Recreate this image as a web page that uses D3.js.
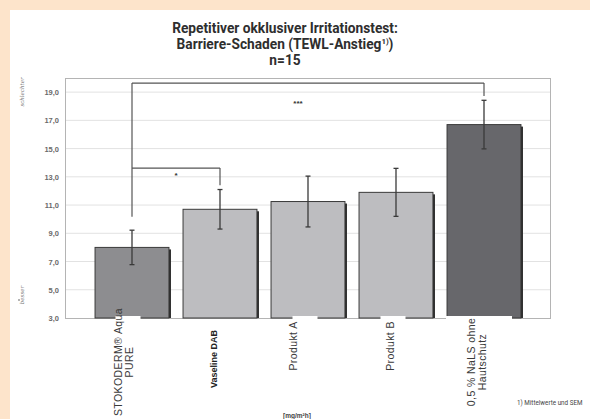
<!DOCTYPE html>
<html>
<head>
<meta charset="utf-8">
<script src="https://cdn.jsdelivr.net/npm/d3@7"></script>
<style>
body{margin:0;background:#fde4cb;}
svg{display:block;}
</style>
</head>
<body>
<svg width="590" height="419"></svg>
<script>
// data
const categories=["STOKODERM® Aqua PURE","Vaseline DAB","Produkt A","Produkt B","0,5 % NaLS ohne Hautschutz"]
const labelLines=[["STOKODERM® Aqua","PURE"],["Vaseline DAB"],["Produkt A"],["Produkt B"],["0,5 % NaLS ohne","Hautschutz"]]
const means=[8.0,10.7,11.25,11.9,16.7]
const sem=[1.22,1.4,1.8,1.7,1.72]
const yTicks=[3,5,7,9,11,13,15,17,19]
const comparisons=[{a:0,b:4,level:19.64,label:"***"},{a:0,b:1,level:13.62,label:"*"}]
const titleLines=["Repetitiver okklusiver Irritationstest:","Barriere-Schaden (TEWL-Anstieg","n=15"]

const fills=["#8d8d90","#bdbdc0","#bdbdc0","#bdbdc0","#67676b"]
const svg=d3.select("svg")
svg.append("rect").attr("x",10).attr("y",10).attr("width",580).attr("height",409).attr("fill","#fff")

const x=d3.scaleBand().domain(categories).range([88,528]).paddingInner(0.16).paddingOuter(0.08)
const y=d3.scaleLinear().domain([3,20]).range([318,78])
const cx=i=>x(categories[i])+x.bandwidth()/2

// grid
svg.append("g").selectAll("line").data(yTicks.slice(1)).join("line")
.attr("x1",66).attr("x2",550).attr("y1",d=>y(d)).attr("y2",d=>y(d))
.attr("stroke","#e2e2e2").attr("stroke-width",1)

// frame
svg.append("rect").attr("x",65.5).attr("y",y(20)+.5).attr("width",485).attr("height",y(3)-y(20))
.attr("fill","none").attr("stroke","#b4b4b4").attr("stroke-width",1)

// y axis labels
const fmt=d=>d3.format(".1f")(d).replace(".",",")
svg.append("g").selectAll("text").data(yTicks).join("text")
.attr("x",59).attr("y",d=>y(d)+3).attr("text-anchor","end")
.attr("font-family","Liberation Sans, Arial, sans-serif").attr("font-size",7.5).attr("font-weight","bold")
.attr("fill","#6a6a6a").text(fmt)

// shadows + bars
const bars=svg.append("g")
bars.selectAll("rect.sh").data(means).join("rect").attr("class","sh")
.attr("x",(d,i)=>x(categories[i])+2).attr("y",d=>y(d)+2)
.attr("width",x.bandwidth()).attr("height",d=>y(3)-y(d)-2).attr("fill","#2b2b2b")
bars.selectAll("rect.bar").data(means).join("rect").attr("class","bar")
.attr("x",(d,i)=>x(categories[i])).attr("y",d=>y(d))
.attr("width",x.bandwidth()).attr("height",d=>y(3)-y(d))
.attr("fill",(d,i)=>fills[i]).attr("stroke","#3a3a3a").attr("stroke-width",1)

// error bars
const eb=svg.append("g").attr("stroke","#3a3a3a").attr("stroke-width",1.3)
means.forEach((m,i)=>{
  const c=cx(i)
  eb.append("line").attr("x1",c).attr("x2",c).attr("y1",y(m+sem[i])).attr("y2",y(m-sem[i]))
  eb.append("line").attr("x1",c-2.5).attr("x2",c+2.5).attr("y1",y(m+sem[i])).attr("y2",y(m+sem[i]))
  eb.append("line").attr("x1",c-2.5).attr("x2",c+2.5).attr("y1",y(m-sem[i])).attr("y2",y(m-sem[i]))
})

// significance brackets
const br=svg.append("g").attr("stroke","#555").attr("stroke-width",1.2).attr("fill","none")
br.append("line").attr("x1",cx(0)).attr("x2",cx(0)).attr("y1",y(comparisons[0].level)).attr("y2",y(means[0]+sem[0]+0.95))
comparisons.forEach((c,k)=>{
  br.append("line").attr("x1",cx(c.a)).attr("x2",cx(c.b)).attr("y1",y(c.level)).attr("y2",y(c.level))
  br.append("line").attr("x1",cx(c.b)).attr("x2",cx(c.b)).attr("y1",y(c.level)).attr("y2",y(means[c.b]+sem[c.b]+0.3))
  svg.append("text").attr("x",(cx(c.a)+cx(c.b))/2-(k==0?10:0)).attr("y",y(c.level)+(k==0?23:10))
  .attr("text-anchor","middle").attr("font-family","Liberation Sans, Arial, sans-serif")
  .attr("font-size",8).attr("font-weight","bold").attr("fill","#333").text(c.label)
})

// white patches over the label tops (as in the scan)
const patchW=[25,0,25,25,66]
svg.append("g").selectAll("rect").data(patchW).join("rect")
.attr("x",(d,i)=>cx(i)-d/2-(i==4?5:(i==0?4:3))).attr("y",316).attr("width",d=>d).attr("height",6).attr("fill","#fff")

// category labels, rotated
const labelDx=[-8,-7,-15,-6,-7]
const lab=svg.append("g")
labelLines.forEach((lines,i)=>{
  const bold=i==1
  const t=lab.append("text")
  .attr("transform",`translate(${cx(i)+labelDx[i]},${bold?359:(lines.length>1?362:346)}) rotate(-90)`)
  .attr("text-anchor","middle").attr("font-family","Liberation Sans, Arial, sans-serif")
  .attr("font-size",bold?9:10.5).attr("font-weight",bold?"bold":"normal").attr("fill",bold?"#222":"#3a3a3a")
  .attr("letter-spacing",bold?0:0.4)
  lines.forEach((l,j)=>t.append("tspan").attr("x",0).attr("dy",j==0?(lines.length>1?-2:3.5):11).text(l))
})

// side labels
svg.append("text").attr("transform","translate(24,92) rotate(-90)").attr("text-anchor","middle")
.attr("font-family","DejaVu Serif, serif").attr("font-style","italic").attr("font-size",5.5).attr("fill","#777").text("schlechter")
svg.append("text").attr("transform","translate(24,295) rotate(-90)").attr("text-anchor","middle")
.attr("font-family","DejaVu Serif, serif").attr("font-style","italic").attr("font-size",5.5).attr("fill","#777").text("besser")
svg.append("circle").attr("cx",19).attr("cy",300).attr("r",0.8).attr("fill","#555")

// title
const tt=svg.append("text").attr("text-anchor","middle").attr("font-family","Roboto, Liberation Sans, sans-serif")
.attr("font-weight","bold").attr("font-size",14).attr("fill","#2e2e2e")
.attr("transform","translate(285,0) scale(0.98,1)")
titleLines.forEach((l,j)=>{
  const s=tt.append("tspan").attr("x",0).attr("y",33+j*16).text(l)
  if(j==1){ s.append("tspan").attr("font-size",8).attr("dy",-5).text("1)"); s.append("tspan").attr("dy",5).text(")") }
})

// unit + footnote
svg.append("text").attr("x",297).attr("y",418).attr("text-anchor","middle")
.attr("font-family","Liberation Sans, Arial, sans-serif").attr("font-size",6.5).attr("font-weight","bold").attr("fill","#444").text("[mg/m²h]")
svg.append("text").attr("x",517).attr("y",405)
.attr("font-family","Roboto, Liberation Sans, sans-serif").attr("font-size",6.3).attr("fill","#444").text("1) Mittelwerte und SEM")
</script>
</body>
</html>
